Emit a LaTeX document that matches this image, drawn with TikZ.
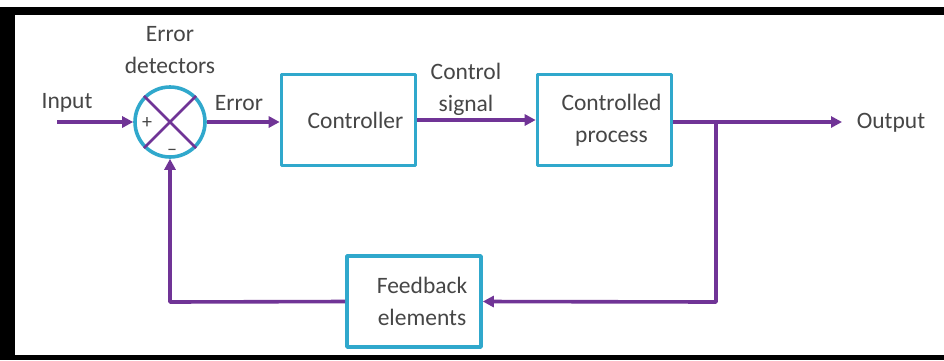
\documentclass[tikz,border=0pt]{standalone}
\usepackage{fontspec}
\setmainfont{Carlito}
\usetikzlibrary{arrows.meta}
\begin{document}
\begin{tikzpicture}[x=1pt,y=-1pt,line join=round]
			\definecolor{blockcyan}{RGB}{48,168,204}
			\definecolor{sigpurple}{RGB}{112,52,150}
			\definecolor{txtgray}{RGB}{70,70,70}
			\tikzset{
				block/.style={draw=blockcyan,line width=3.6pt,minimum width=134pt,minimum height=91pt,
					align=center,text=txtgray,font=\fontsize{23.5}{32}\selectfont},
				lbl/.style={text=txtgray,align=center,font=\fontsize{23.5}{32}\selectfont,inner sep=0pt},
				sig/.style={draw=sigpurple,line width=3.6pt,-{Triangle[length=11pt,width=11pt]}},
				sgn/.style={text=txtgray,font=\fontsize{20}{20}\selectfont,inner sep=0pt}
			}
			% frame
			\useasboundingbox (0,0) rectangle (944,360);
			\fill[black] (0,7) rectangle (944,360);
			\fill[white] (15,15) rectangle (944,355);
			
			% summing junction
			\node[circle,draw=blockcyan,line width=3.6pt,minimum size=70pt,inner sep=0pt] (sum) at (170,122) {};
			\draw[sigpurple,line width=2.6pt] (sum.45)--(sum.225) (sum.135)--(sum.315);
			\node[sgn] (plus) at (147,123) {+};
			\node[sgn] (minus) at (172,152) {–};
			
			% blocks
			\node[block] (ctrl) at (348.5,120) {\hspace*{14pt}Controller};
			\node[block] (proc) at (604.5,120) {\hspace*{14pt}Controlled\\\hspace*{14pt}process};
			\node[block] (fb) at (414,301.5) {\hspace*{16pt}Feedback\\\hspace*{16pt}elements};
			
			\path
			(57,122) coordinate (in)
			(842,122) coordinate (out)
			(716,122) coordinate (tap)
			(716,302) coordinate (tapdown)
			(170,302) coordinate (back);
			
			% signal paths
			\draw[sig] (in)--(sum.west);
			\draw[sig] (sum.east)--(sum.east-|ctrl.west);
			\draw[sig] (ctrl.east)--(proc.west);
			\draw[sig] (proc.east|-out)--(out);
			\draw[sig] (tap)--(tapdown)--(fb.east);
			\draw[sig] (fb.west)--(back)--(sum.south);
			
			% labels
			\node[lbl] (inlbl) at (67,103) {Input};
			\node[lbl] (errdet) at (170,50) {Error\\detectors};
			\node[lbl] (errlbl) at (239,103) {Error};
			\node[lbl] (ctlsig) at (466,89) {Control\\signal};
			\node[lbl] (outlbl) at (891,123) {Output};
		\end{tikzpicture}
\end{document}
